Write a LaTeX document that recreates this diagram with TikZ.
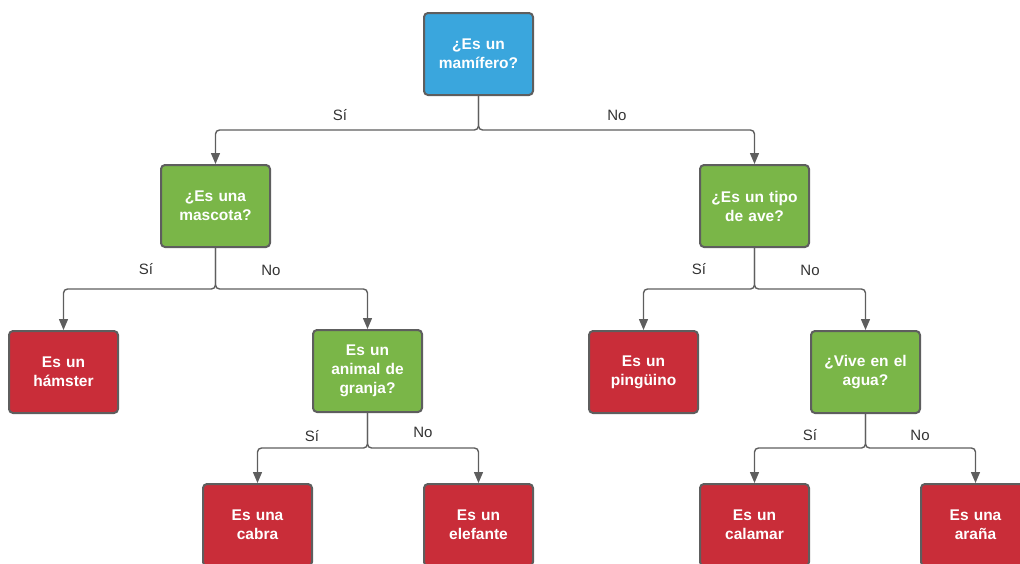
\documentclass[tikz,border=0pt]{standalone}
\usepackage{fontspec}
\setmainfont{Liberation Sans}
\usetikzlibrary{arrows.meta}
\definecolor{qblue}{HTML}{3AA6DD}
\definecolor{qgreen}{HTML}{7AB648}
\definecolor{ared}{HTML}{C92D39}
\definecolor{edge}{HTML}{5E5E5E}
\definecolor{lbl}{HTML}{333333}
\begin{document}
\begin{tikzpicture}[x=1pt,y=-1pt,
  box/.style={draw=edge, line width=2pt, rounded corners=4pt,
    minimum width=109pt, minimum height=82pt, text width=104pt, align=center,
    text=white, font=\bfseries\fontsize{15.5}{19}\selectfont, inner sep=0pt},
  question/.style={box, fill=qgreen},
  rootq/.style={box, fill=qblue},
  answer/.style={box, fill=ared},
  conn/.style={draw=edge, line width=1.4pt, rounded corners=4pt,
    -{Triangle[length=11pt,width=9pt]}},
  lab/.style={text=lbl, font=\fontsize{15}{18}\selectfont, inner sep=0pt}]
\useasboundingbox (0,0) rectangle (1020,563);
\clip (0,0) rectangle (1020,563);

% question nodes
\node[rootq] (root) at (478.5,54) {¿Es un\\mamífero?};
\node[question] (masc) at (215.5,206) {¿Es una\\mascota?};
\node[question] (ave) at (754.5,206) {¿Es un tipo\\de ave?};
\node[question] (granja) at (367.5,371) {Es un\\animal de\\granja?};
\node[question] (agua) at (865.5,372) {¿Vive en el\\agua?};

% answer nodes
\node[answer] (hamster) at (63.5,372) {Es un\\hámster};
\node[answer] (pinguino) at (643.5,372) {Es un\\pingüino};
\node[answer] (cabra) at (257.5,525) {Es una\\cabra};
\node[answer] (elefante) at (478.5,525) {Es un\\elefante};
\node[answer] (calamar) at (754.5,525) {Es un\\calamar};
\node[answer] (arana) at (975.5,525) {Es una\\araña};

% branch points
\coordinate (j0) at (478.5,130);
\coordinate (j1) at (215.5,289);
\coordinate (j2) at (754.5,289);
\coordinate (j3) at (367.5,448);
\coordinate (j4) at (865.5,448);

% connectors
\draw[conn] (root.south) -- (j0) -| (masc.north);
\draw[conn] (root.south) -- (j0) -| (ave.north);
\draw[conn] (masc.south) -- (j1) -| (hamster.north);
\draw[conn] (masc.south) -- (j1) -| (granja.north);
\draw[conn] (ave.south) -- (j2) -| (pinguino.north);
\draw[conn] (ave.south) -- (j2) -| (agua.north);
\draw[conn] (granja.south) -- (j3) -| (cabra.north);
\draw[conn] (granja.south) -- (j3) -| (elefante.north);
\draw[conn] (agua.south) -- (j4) -| (calamar.north);
\draw[conn] (agua.south) -- (j4) -| (arana.north);

% branch labels
\node[lab] (l0s) at (340,115) {Sí};
\node[lab] (l0n) at (617,115) {No};
\node[lab] (l1s) at (146,269) {Sí};
\node[lab] (l1n) at (271,270) {No};
\node[lab] (l2s) at (699,269) {Sí};
\node[lab] (l2n) at (810,270) {No};
\node[lab] (l3s) at (312,436) {Sí};
\node[lab] (l3n) at (423,432) {No};
\node[lab] (l4s) at (810,435) {Sí};
\node[lab] (l4n) at (920,435) {No};
\end{tikzpicture}
\end{document}
